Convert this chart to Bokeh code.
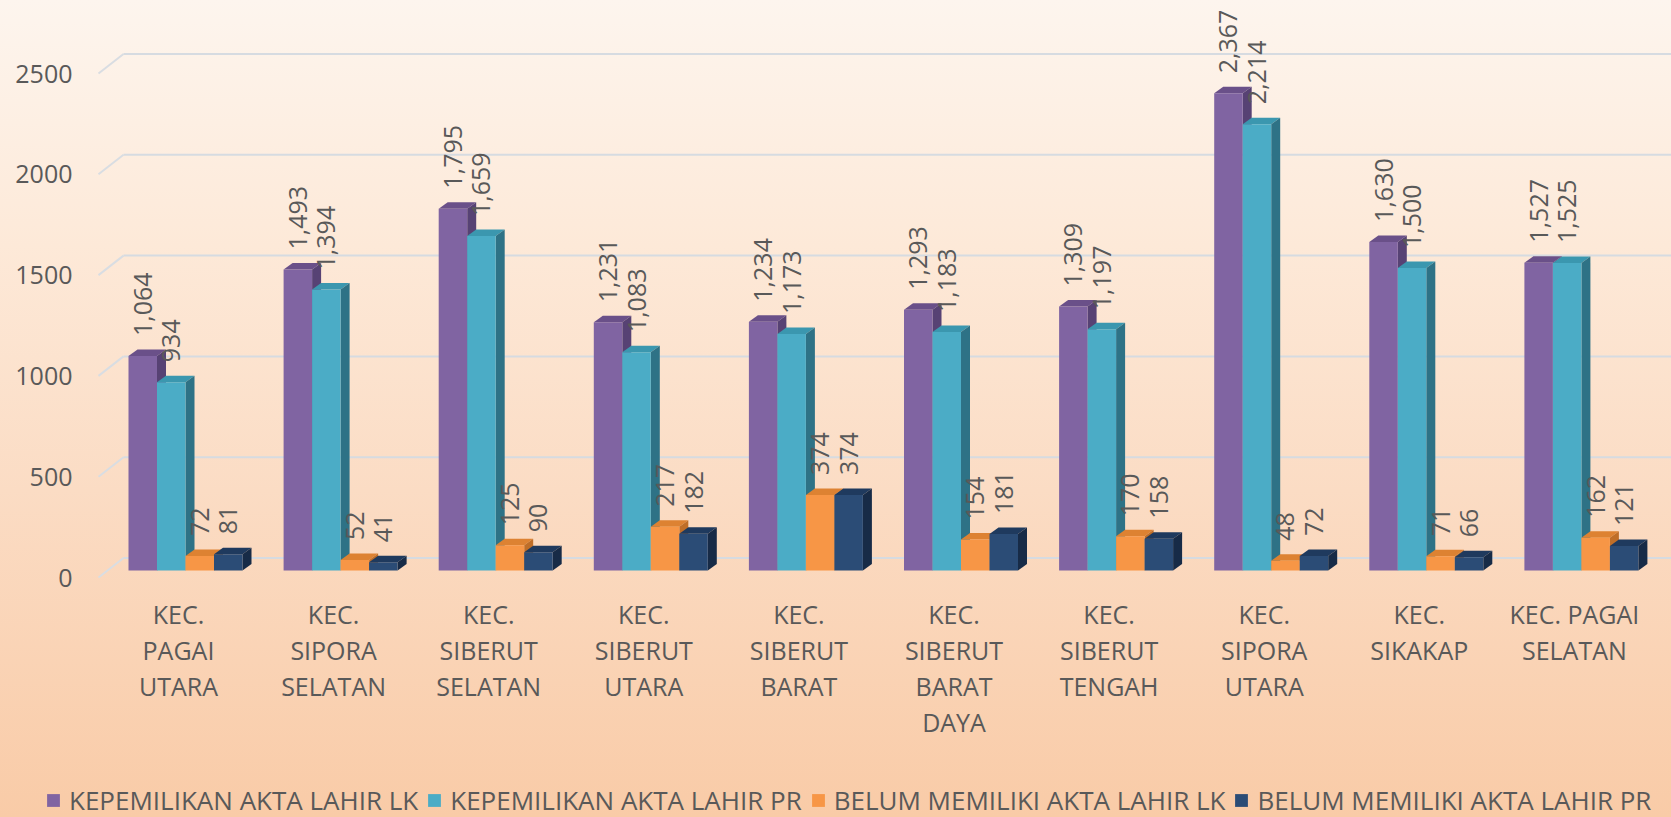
import math
from bokeh.plotting import figure
from bokeh.layouts import column
from bokeh.models import (FixedTicker, LinearAxis, Range1d, Legend, LegendItem,
                          GlobalInlineStyleSheet)
from bokeh.core.properties import value
from bokeh.embed import file_html
from bokeh.resources import INLINE

# ---------------- data ----------------
categories = ["KEC. PAGAI UTARA", "KEC. SIPORA SELATAN", "KEC. SIBERUT SELATAN",
              "KEC. SIBERUT UTARA", "KEC. SIBERUT BARAT", "KEC. SIBERUT BARAT DAYA",
              "KEC. SIBERUT TENGAH", "KEC. SIPORA UTARA", "KEC. SIKAKAP",
              "KEC. PAGAI SELATAN"]
tick_labels = ["KEC.\nPAGAI\nUTARA", "KEC.\nSIPORA\nSELATAN", "KEC.\nSIBERUT\nSELATAN",
               "KEC.\nSIBERUT\nUTARA", "KEC.\nSIBERUT\nBARAT", "KEC.\nSIBERUT\nBARAT\nDAYA",
               "KEC.\nSIBERUT\nTENGAH", "KEC.\nSIPORA\nUTARA", "KEC.\nSIKAKAP",
               "KEC. PAGAI\nSELATAN"]
series_names = ["KEPEMILIKAN AKTA LAHIR LK", "KEPEMILIKAN AKTA LAHIR PR",
                "BELUM MEMILIKI AKTA LAHIR LK", "BELUM MEMILIKI AKTA LAHIR PR"]
akta_lk = [1064, 1493, 1795, 1231, 1234, 1293, 1309, 2367, 1630, 1527]
akta_pr = [934, 1394, 1659, 1083, 1173, 1183, 1197, 2214, 1500, 1525]
belum_lk = [72, 52, 125, 217, 374, 154, 170, 48, 71, 162]
belum_pr = [81, 41, 90, 182, 374, 181, 158, 72, 66, 121]
y_ticks = [0, 500, 1000, 1500, 2000, 2500]

series = [akta_lk, akta_pr, belum_lk, belum_pr]
front_colors = ["#8064A2", "#4BACC6", "#F79646", "#2B4C76"]
top_colors = ["#6A5089", "#3B97AF", "#DD8232", "#1F3A5E"]
side_colors = ["#574274", "#2E7286", "#BF6E28", "#172B47"]

# ---------------- geometry (pixels) ----------------
W = 1671
H_MAIN = 770
H_LEG = 47
FRAME_LEFT = 80
FRAME_BOTTOM = 590
ZERO_Y = 570           # bar base, px from top
K = 0.2016             # px per data unit (y)
CAT_PX = 155.1         # px per category
CAT0_X = 178           # px of first category centre

y_start = -(FRAME_BOTTOM - ZERO_Y) / K
y_end = ZERO_Y / K
x_start = -(CAT0_X - FRAME_LEFT) / CAT_PX
x_end = (W - CAT0_X) / CAT_PX

bar_w = 28.5 / CAT_PX
grp_shift = 7 / CAT_PX
dx = 9 / CAT_PX
dy = 6.5 / K
back_off = 12.5 / K
front_off = 7 / K
grid_back_x = (123 - CAT0_X) / CAT_PX
grid_front_x = (98 - CAT0_X) / CAT_PX
label_gap = 20 / K

FONT = "Open Sans"
TXT = "#595959"

p = figure(width=W, height=H_MAIN, x_range=Range1d(x_start, x_end),
           y_range=Range1d(y_start, y_end), output_backend="svg",
           toolbar_location=None, y_axis_location=None,
           min_border_left=FRAME_LEFT, min_border_right=0, min_border_top=0,
           min_border_bottom=H_MAIN - FRAME_BOTTOM,
           background_fill_color=None, border_fill_color=None,
           outline_line_color=None, frame_align=False)
p.xgrid.visible = False
p.ygrid.visible = False

p.stylesheets = [GlobalInlineStyleSheet(css=(
    "html{min-height:100%;background:linear-gradient(180deg,#fdf5ee 0%,"
    "#fde9d8 30%,#fbdcc4 60%,#f9cba7 100%) fixed;}"
    "body{background:transparent;}"))]

# gridlines on back wall + slanted floor edge
p.segment(x0=[grid_front_x] * len(y_ticks), y0=[t - front_off for t in y_ticks],
          x1=[grid_back_x] * len(y_ticks), y1=[t + back_off for t in y_ticks],
          line_color="#d9dde2", line_width=2)
p.segment(x0=[grid_back_x] * len(y_ticks), y0=[t + back_off for t in y_ticks],
          x1=[x_end] * len(y_ticks), y1=[t + back_off for t in y_ticks],
          line_color="#d6dbe1", line_width=2)

for j, vals in enumerate(series):
    lefts = [i + grp_shift + (j - 2) * bar_w for i in range(len(vals))]
    rights = [l + bar_w for l in lefts]
    # top faces
    p.patches(xs=[[l, r, r + dx, l + dx] for l, r in zip(lefts, rights)],
              ys=[[v, v, v + dy, v + dy] for v in vals],
              fill_color=top_colors[j], line_color=None)
    # side faces
    p.patches(xs=[[r, r + dx, r + dx, r] for r in rights],
              ys=[[0, dy, v + dy, v] for v in vals],
              fill_color=side_colors[j], line_color=None)
    p.quad(left=lefts, right=rights, bottom=[0] * len(vals), top=vals,
           fill_color=front_colors[j], line_color=None)

# data labels
for j, vals in enumerate(series):
    centers = [i + grp_shift + (j - 1.5) * bar_w for i in range(len(vals))]
    p.text(x=centers, y=[v + label_gap for v in vals], text=[f"{v:,}" for v in vals],
           angle=math.pi / 2, text_align="left", text_baseline="middle",
           text_font=value(FONT), text_font_size="25px", text_color=TXT)

# x axis
xa = p.xaxis[0]
xa.ticker = FixedTicker(ticks=list(range(len(categories))))
xa.major_label_overrides = {i: lbl for i, lbl in enumerate(tick_labels)}
xa.axis_line_color = None
xa.major_tick_line_color = None
xa.minor_tick_line_color = None
xa.major_tick_out = 0
xa.major_tick_in = 0
xa.major_label_text_font = FONT
xa.major_label_text_font_size = "25px"
xa.major_label_text_color = TXT
xa.major_label_text_line_height = 1.06
xa.major_label_standoff = 6

# y axis (labels aligned with front floor edge)
p.extra_y_ranges = {"lab": Range1d(y_start + front_off, y_end + front_off)}
ya = LinearAxis(y_range_name="lab", ticker=FixedTicker(ticks=y_ticks))
ya.axis_line_color = None
ya.major_tick_line_color = None
ya.minor_tick_line_color = None
ya.major_tick_out = 0
ya.major_tick_in = 0
ya.major_label_text_font = FONT
ya.major_label_text_font_size = "25px"
ya.major_label_text_color = TXT
ya.major_label_standoff = 8
p.add_layout(ya, "left")

# ---------------- legend strip ----------------
pl = figure(width=W, height=H_LEG, x_range=Range1d(0, 1), y_range=Range1d(0, 1),
            output_backend="svg", toolbar_location=None,
            x_axis_location=None, y_axis_location=None,
            min_border_left=0, min_border_right=0, min_border_top=0,
            min_border_bottom=0, background_fill_color=None,
            border_fill_color=None, outline_line_color=None, frame_align=False)
pl.xgrid.visible = False
pl.ygrid.visible = False
items = []
for j, name in enumerate(series_names):
    # swatch-only renderer, kept outside the visible range
    r = pl.quad(left=[2], right=[3], bottom=[2], top=[3],
                fill_color=front_colors[j], line_color=None)
    items.append(LegendItem(label=name, renderers=[r]))
legend = Legend(items=items, orientation="horizontal", location=(45, -1),
                glyph_width=16, glyph_height=16, label_standoff=8, spacing=8,
                padding=0, margin=0, label_text_font=FONT,
                label_text_font_size="26px", label_text_color=TXT,
                border_line_color=None, background_fill_alpha=0)
pl.add_layout(legend)

layout = column(p, pl, spacing=0)
open("out.html", "w").write(file_html(layout, INLINE))
